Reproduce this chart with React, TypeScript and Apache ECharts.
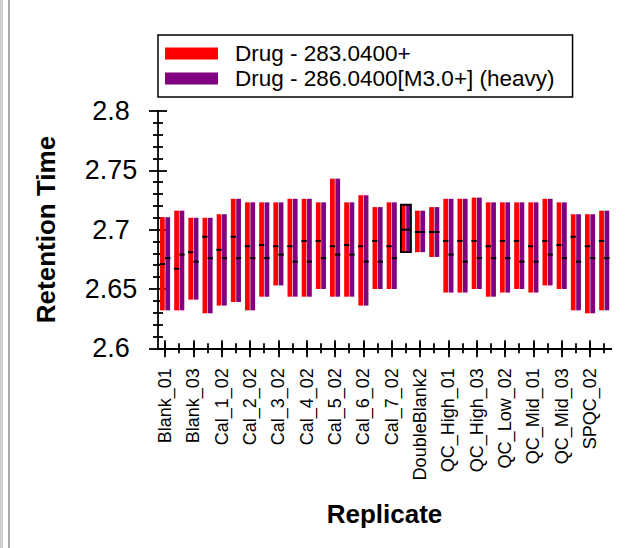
import React, { useEffect, useRef } from "react";
import * as echarts from "echarts";

const replicates = [
  "Blank_01", "Blank_02", "Blank_03",
  "Cal_1_01", "Cal_1_02", "Cal_2_01", "Cal_2_02", "Cal_3_01", "Cal_3_02",
  "Cal_4_01", "Cal_4_02", "Cal_5_01", "Cal_5_02", "Cal_6_01", "Cal_6_02",
  "Cal_7_01", "Cal_7_02",
  "DoubleBlank1", "DoubleBlank2", "DoubleBlank3",
  "QC_High_01", "QC_High_02", "QC_High_03",
  "QC_Low_01", "QC_Low_02", "QC_Low_03",
  "QC_Mid_01", "QC_Mid_02", "QC_Mid_03",
  "SPQC_01", "SPQC_02", "SPQC_03",
];

// Peak start / end retention times (shared by both transitions)
const rtStart = [
  2.632, 2.632, 2.641, 2.6295, 2.636, 2.639, 2.632, 2.6435, 2.653, 2.6435,
  2.6435, 2.65, 2.6435, 2.6435, 2.636, 2.65, 2.65, 2.681, 2.681, 2.677,
  2.647, 2.647, 2.65, 2.6435, 2.647, 2.65, 2.647, 2.653, 2.65, 2.632,
  2.6295, 2.632,
];
const rtEnd = [
  2.7105, 2.716, 2.71, 2.71, 2.713, 2.726, 2.723, 2.723, 2.723, 2.726,
  2.726, 2.723, 2.743, 2.723, 2.729, 2.719, 2.723, 2.721, 2.716, 2.719,
  2.726, 2.726, 2.727, 2.723, 2.723, 2.723, 2.723, 2.726, 2.723, 2.713,
  2.713, 2.716,
];
// Apex retention times
const apexLight = [
  2.671, 2.667, 2.681, 2.694, 2.683, 2.694, 2.686, 2.687, 2.686, 2.686,
  2.6905, 2.6905, 2.686, 2.687, 2.686, 2.6905, 2.686, 2.7, 2.698, 2.698,
  2.6905, 2.6905, 2.6905, 2.686, 2.6905, 2.6905, 2.686, 2.6905, 2.687, 2.694,
  2.686, 2.6905,
];
const apexHeavy = [
  2.676, 2.679, 2.673, 2.676, 2.676, 2.676, 2.676, 2.676, 2.679, 2.673,
  2.673, 2.676, 2.679, 2.679, 2.673, 2.673, 2.676, 2.7, 2.698, 2.698,
  2.679, 2.673, 2.676, 2.676, 2.676, 2.673, 2.673, 2.679, 2.676, 2.673,
  2.676, 2.676,
];

const seriesNames = ["Drug - 283.0400+", "Drug - 286.0400[M3.0+] (heavy)"];
const seriesColors = ["#FF0000", "#800080"];
const selectedReplicate = "DoubleBlank1";

const yMin = 2.6;
const yMax = 2.8;
const yStep = 0.05;
const yTickLabels = ["2.6", "2.65", "2.7", "2.75", "2.8"];

const FONT = "'Liberation Sans', Arial, sans-serif";

export default function App() {
  const ref = useRef<HTMLDivElement>(null);

  useEffect(() => {
    if (!ref.current) return;
    const chart = echarts.init(ref.current, undefined, { renderer: "svg" });

    const lineStyle = { color: "#000", width: 1.8 };

    const makeRender = (side: number, color: string) => (params: any, api: any) => {
      const i = api.value(0);
      const lo = api.coord([i, api.value(1)]);
      const hi = api.coord([i, api.value(2)]);
      const ap = api.coord([i, api.value(3)]);
      const band = api.size([1, 0])[0];
      const w = band * 0.335;
      const gap = 0.3;
      const x0 = side < 0 ? lo[0] - gap - w : lo[0] + gap;
      const children: any[] = [
        {
          type: "rect",
          shape: { x: x0, y: hi[1], width: w, height: lo[1] - hi[1] },
          style: { fill: color },
        },
        {
          type: "line",
          shape: { x1: x0 - 0.3, y1: ap[1], x2: x0 + w + 0.3, y2: ap[1] },
          style: { stroke: "#000", lineWidth: 2 },
        },
      ];
      if (side > 0 && replicates[i] === selectedReplicate) {
        children.push({
          type: "rect",
          shape: { x: lo[0] - w - gap, y: hi[1], width: 2 * (w + gap), height: lo[1] - hi[1] },
          style: { fill: "none", stroke: "#000", lineWidth: 1.8 },
        });
      }
      return { type: "group", children };
    };

    const lightData = replicates.map((_, i) => [i, rtStart[i], rtEnd[i], apexLight[i]]);
    const heavyData = replicates.map((_, i) => [i, rtStart[i], rtEnd[i], apexHeavy[i]]);

    const catBase: any = {
      type: "category",
      data: replicates,
      gridIndex: 0,
      position: "bottom",
      boundaryGap: true,
      axisLine: { show: false, onZero: false },
      axisLabel: { show: false },
      splitLine: { show: false },
    };
    const yBase: any = {
      type: "value",
      min: yMin,
      max: yMax,
      interval: yStep,
      position: "left",
      splitLine: { show: false },
    };

    chart.setOption({
      animation: false,
      backgroundColor: "#fff",
      textStyle: { fontFamily: FONT },
      grid: { left: 158, top: 111, width: 453.3, height: 237.3, containLabel: false },
      legend: {
        orient: "vertical",
        left: 158,
        top: 35,
        icon: "rect",
        itemWidth: 53,
        itemHeight: 12,
        itemGap: 0,
        padding: [6, 18, 6, 7],
        borderColor: "#000",
        borderWidth: 1.5,
        selectedMode: false,
        textStyle: { fontSize: 22.5, color: "#000", fontFamily: FONT, lineHeight: 25, padding: [0, 0, 0, 12] },
        data: seriesNames,
      },
      xAxis: [
        {
          ...catBase,
          axisLine: { show: true, onZero: false, lineStyle },
          axisTick: { show: true, alignWithLabel: true, interval: (i: number) => i % 2 === 0, length: 9, lineStyle },
          axisLabel: { show: true, interval: 1, rotate: 90, margin: 20, fontSize: 18, color: "#000", fontFamily: FONT },
        },
        {
          ...catBase,
          axisTick: { show: true, inside: true, alignWithLabel: true, interval: (i: number) => i % 2 === 0, length: 8, lineStyle },
        },
        {
          ...catBase,
          axisTick: { show: true, alignWithLabel: true, interval: 0, length: 5, lineStyle },
        },
        {
          ...catBase,
          axisTick: { show: true, inside: true, alignWithLabel: true, interval: 0, length: 5, lineStyle },
        },
      ],
      yAxis: [
        {
          ...yBase,
          axisLine: { show: true, onZero: false, lineStyle },
          axisTick: { show: true, length: 9, lineStyle },
          minorTick: { show: true, splitNumber: 5, length: 5, lineStyle },
          axisLabel: {
            show: true,
            align: "center",
            margin: 47,
            fontSize: 27,
            color: "#000",
            fontFamily: FONT,
            formatter: (v: number) => yTickLabels[Math.round((v - yMin) / yStep)],
          },
        },
        {
          ...yBase,
          axisLine: { show: false, onZero: false },
          axisLabel: { show: false },
          axisTick: { show: true, inside: true, length: 9, lineStyle },
          minorTick: { show: true, splitNumber: 5, length: 5, lineStyle },
        },
      ],
      series: [
        {
          type: "custom",
          name: seriesNames[0],
          xAxisIndex: 0,
          yAxisIndex: 0,
          itemStyle: { color: seriesColors[0] },
          encode: { x: 0, y: [1, 2, 3] },
          renderItem: makeRender(-1, seriesColors[0]),
          data: lightData,
          z: 3,
        },
        {
          type: "custom",
          name: seriesNames[1],
          xAxisIndex: 0,
          yAxisIndex: 0,
          itemStyle: { color: seriesColors[1] },
          encode: { x: 0, y: [1, 2, 3] },
          renderItem: makeRender(1, seriesColors[1]),
          data: heavyData,
          z: 3,
        },
      ],
      graphic: [
        { type: "rect", left: 0, top: 0, shape: { width: 3, height: 548 }, style: { fill: "#cfcfcf" }, silent: true },
        { type: "rect", left: 8, top: 0, shape: { width: 2, height: 548 }, style: { fill: "#a8a8a8" }, silent: true },
        {
          type: "text",
          x: 46,
          y: 229.5,
          rotation: Math.PI / 2,
          style: { text: "Retention Time", font: `bold 26px ${FONT}`, fill: "#000", align: "center", verticalAlign: "middle" },
        },
        {
          type: "text",
          x: 384.5,
          y: 514,
          style: { text: "Replicate", font: `bold 26px ${FONT}`, fill: "#000", align: "center", verticalAlign: "middle" },
        },
      ],
    });

    return () => chart.dispose();
  }, []);

  return (
    <div
      ref={ref}
      style={{ position: "absolute", left: 0, top: 0, width: 628, height: 548, background: "#fff" }}
    />
  );
}
